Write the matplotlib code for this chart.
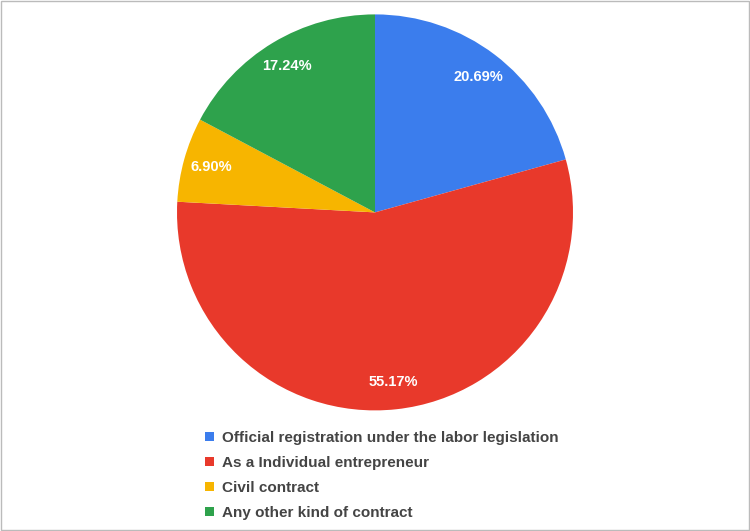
import matplotlib.pyplot as plt
from matplotlib.patches import Rectangle

labels = ["Official registration under the labor legislation",
          "As a Individual entrepreneur",
          "Civil contract",
          "Any other kind of contract"]
values = [20.69, 55.17, 6.90, 17.24]
colors = ["#3B7DED", "#E8392B", "#F7B500", "#2EA24C"]

fig = plt.figure(figsize=(7.5, 5.31), dpi=100)
ax = fig.add_axes([0.236, 0.227, 0.528, 0.746])
wedges, texts, autotexts = ax.pie(values, colors=colors, startangle=90, counterclock=False,
                                  autopct="%.2f%%", pctdistance=0.86,
                                  wedgeprops=dict(linewidth=0),
                                  textprops=dict(color="white", fontweight="bold", fontsize=10.5,
                                                 family="Liberation Sans"))
ax.set_xlim(-1, 1)
ax.set_ylim(-1, 1)
ax.set_aspect("equal")

fig.legend(wedges, labels, loc="upper left", bbox_to_anchor=(0.265, 0.2),
           frameon=False, handlelength=0.6, handleheight=0.6, handletextpad=0.5,
           labelspacing=0.72, borderaxespad=0,
           prop=dict(family="Liberation Sans", weight="bold", size=11),
           labelcolor="#444444")

fig.patches.append(Rectangle((0.001, 0.001), 0.998, 0.998, transform=fig.transFigure,
                             fill=False, edgecolor="#BBBBBB", linewidth=1))
fig.savefig("out.png", dpi=100)
